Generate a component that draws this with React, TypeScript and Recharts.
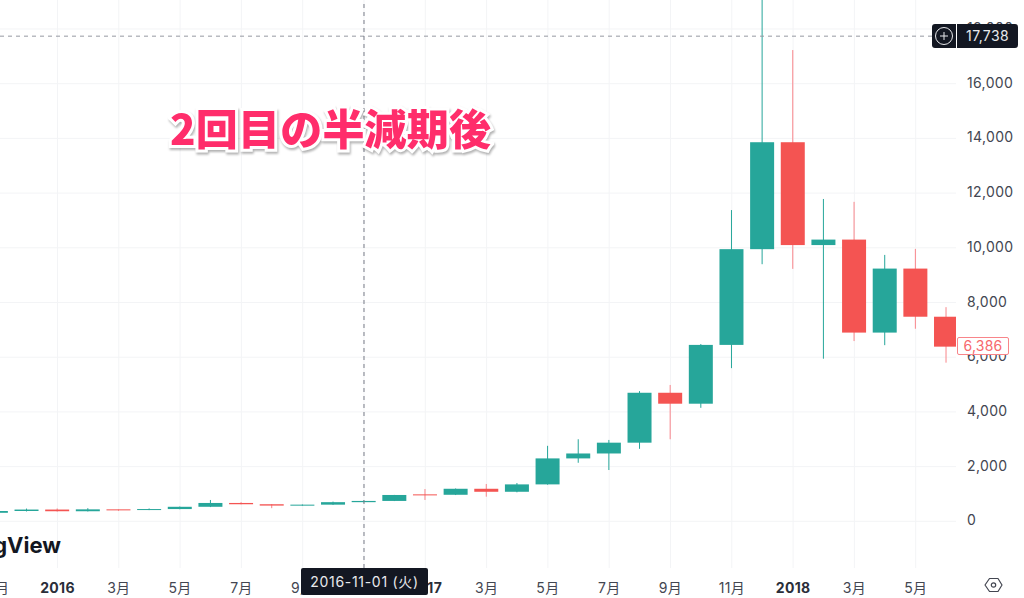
import { ComposedChart, Bar, XAxis, YAxis, CartesianGrid, ReferenceLine } from "recharts";

// month index, 0 = 2016-01
const months = [-2, -1, 0, 1, 2, 3, 4, 5, 6, 7, 8, 9, 10, 11, 12, 13, 14, 15, 16, 17, 18, 19, 20, 21, 22, 23, 24, 25, 26, 27, 28, 29];
const opens = [311, 377, 430, 368, 437, 416, 448, 531, 671, 624, 575, 609, 700, 745, 985, 970, 1190, 1080, 1350, 2300, 2480, 2875, 4700, 4300, 6450, 9950, 13860, 10100, 10300, 6900, 9240, 7480];
const closes = [377, 430, 368, 437, 416, 448, 531, 671, 624, 575, 609, 700, 745, 963, 970, 1190, 1080, 1350, 2300, 2480, 2875, 4700, 4300, 6450, 9950, 13860, 10100, 10300, 6900, 9240, 7480, 6386];
const highs = [380, 465, 470, 480, 430, 470, 540, 780, 700, 630, 615, 720, 760, 965, 1180, 1200, 1365, 1400, 2760, 3000, 2975, 4760, 4985, 6480, 11380, 19500, 17230, 11785, 11680, 9740, 9960, 7830];
const lows = [300, 360, 355, 360, 385, 410, 440, 520, 620, 480, 570, 600, 695, 740, 780, 960, 900, 1060, 1340, 2140, 1875, 2650, 3000, 4150, 5600, 9400, 9230, 5945, 6590, 6440, 7040, 5800];

const xTicks = [-2, 0, 2, 4, 6, 8, 10, 12, 14, 16, 18, 20, 22, 24, 26, 28];
const xLabels = ["11月", "2016", "3月", "5月", "7月", "9月", "11月", "2017", "3月", "5月", "7月", "9月", "11月", "2018", "3月", "5月"];
const yTicks = [0, 2000, 4000, 6000, 8000, 10000, 12000, 14000, 16000, 18000];

const data = months.map((m, i) => ({
  month: m,
  open: opens[i],
  close: closes[i],
  range: [lows[i], highs[i]],
}));

const UP = "#26a69a";
const DOWN = "#f45452";
const FONT = 'Inter, "Noto Sans CJK JP", sans-serif';

function Candle(props: any) {
  const { x, y, width, height, payload } = props;
  const [low, high] = payload.range;
  const perUnit = height / (high - low);
  const top = y + (high - Math.max(payload.open, payload.close)) * perUnit;
  const bodyH = Math.abs(payload.open - payload.close) * perUnit;
  const up = payload.close >= payload.open;
  const color = up ? UP : DOWN;
  return (
    <g>
      <line x1={x + width / 2} x2={x + width / 2} y1={y} y2={y + height} stroke={up ? UP : "#f8858a"} strokeWidth={1} />
      <rect x={x} y={top} width={width} height={Math.max(bodyH, 1)} fill={color} />
    </g>
  );
}

function MonthTick({ x, y, payload }: any) {
  const label = xLabels[xTicks.indexOf(payload.value)];
  const isYear = label.length === 4;
  return (
    <text x={x} y={y + 17} textAnchor="middle" fontFamily={FONT} fontSize={14} letterSpacing={0.3} fontWeight={isYear ? 700 : 400} fill={isYear ? "#2a2e39" : "#434651"}>
      {label}
    </text>
  );
}

function PriceTick({ x, y, payload }: any) {
  return (
    <text x={967} y={y + 4} textAnchor="start" fontFamily={FONT} fontSize={14} letterSpacing={0.35} fill="#434651">
      {payload.value.toLocaleString("en-US")}
    </text>
  );
}

export default function App() {
  return (
    <div style={{ position: "absolute", left: 0, top: 0, width: 1024, height: 598, overflow: "hidden", background: "#fff" }}>
      <ComposedChart width={1024} height={598} data={data} margin={{ top: 0, right: 0, bottom: 0, left: 0 }}>
        <CartesianGrid stroke="#f3f4f6" strokeWidth={1} horizontalValues={yTicks} verticalValues={xTicks} />
        <XAxis
          dataKey="month"
          type="number"
          domain={[-1.876, 29.315]}
          allowDataOverflow
          ticks={xTicks}
          interval={0}
          height={30}
          axisLine={false}
          tickLine={false}
          tick={<MonthTick />}
        />
        <YAxis
          orientation="right"
          domain={[-1707, 19060]}
          allowDataOverflow
          ticks={yTicks}
          interval={0}
          width={68}
          axisLine={false}
          tickLine={false}
          tick={<PriceTick />}
        />
        <Bar dataKey="range" barSize={24} shape={<Candle />} isAnimationActive={false} />
        <ReferenceLine y={17738} stroke="#9598a1" strokeDasharray="4 4" />
        <ReferenceLine x={10} stroke="#787b86" strokeDasharray="4 4" />
      </ComposedChart>

      <div
        style={{
          position: "absolute", left: 170, top: 99, fontFamily: '"Noto Sans CJK JP", sans-serif', fontWeight: 900, fontSize: 42,
          lineHeight: "56px", letterSpacing: 0.2, color: "#ff2d6b", whiteSpace: "nowrap", WebkitTextStroke: "6px #fff", paintOrder: "stroke fill",
          filter: "drop-shadow(1px 2px 1px rgba(0,0,0,0.3))",
        }}
      >
        2回目の半減期後
      </div>

      <div style={{ position: "absolute", right: 963, top: 530, fontFamily: FONT, fontWeight: 700, fontSize: 22, lineHeight: "30px", color: "#131722", whiteSpace: "nowrap" }}>
        TradingView
      </div>

      <div style={{ position: "absolute", left: 301, top: 568, width: 127, height: 27, background: "#131722", color: "#e8e9ec", borderRadius: 2, fontFamily: FONT, fontSize: 14, letterSpacing: 0.7, lineHeight: "27px", textAlign: "center", whiteSpace: "nowrap" }}>
        2016-11-01 (火)
      </div>

      <div style={{ position: "absolute", left: 932, top: 24, width: 24, height: 24, background: "#131722", borderRadius: "3px 0 0 3px" }}>
        <svg width={24} height={24}>
          <circle cx={12} cy={12} r={8.5} fill="none" stroke="#e8e9ec" strokeWidth={1} />
          <path d="M12 8v8M8 12h8" stroke="#e8e9ec" strokeWidth={1} />
        </svg>
      </div>
      <div style={{ position: "absolute", left: 957, top: 24, width: 61, height: 24, background: "#131722", color: "#e8e9ec", borderRadius: "0 3px 3px 0", fontFamily: FONT, fontSize: 14, letterSpacing: 0.35, lineHeight: "24px", textAlign: "center" }}>
        17,738
      </div>

      <div style={{ position: "absolute", left: 957, top: 337, width: 50, height: 16, background: "#fff", border: "1px solid #f8858a", borderRadius: 2, color: "#f7686c", fontFamily: FONT, fontSize: 14, letterSpacing: 0.2, lineHeight: "16px", textAlign: "center" }}>
        6,386
      </div>

      <svg style={{ position: "absolute", left: 984, top: 575 }} width={20} height={20}>
        <path d="M5.5 3.5h8.5L18 10l-4 6.5h-8.5L1 10z" fill="none" stroke="#434651" strokeWidth={1.2} strokeLinejoin="round" />
        <circle cx={9.5} cy={10} r={2.2} fill="none" stroke="#434651" strokeWidth={1.2} />
      </svg>
    </div>
  );
}
